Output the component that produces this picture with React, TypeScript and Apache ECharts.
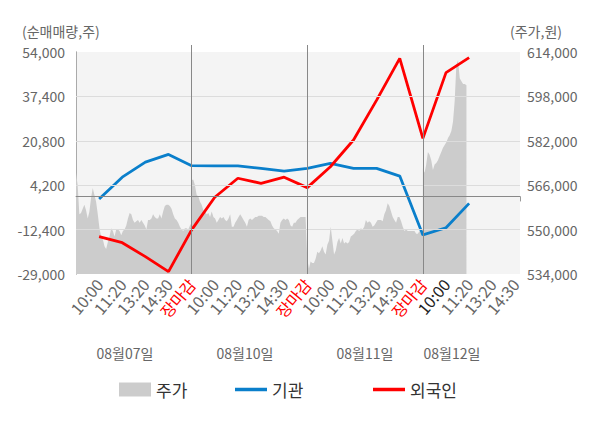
import React, { useEffect, useRef } from "react";
import * as echarts from "echarts";

const FONT = '"Noto Sans CJK KR", "Noto Sans", sans-serif';

// x-axis tick labels (one per slot, slots 1..19)
const timeLabels = [
  "10:00", "11:20", "13:20", "14:30", "장마감",
  "10:00", "11:20", "13:20", "14:30", "장마감",
  "10:00", "11:20", "13:20", "14:30", "장마감",
  "10:00", "11:20", "13:20", "14:30",
];
const closeLabel = "장마감";
const currentDayFirstSlot = 16;
const dayLabels = ["08월07일", "08월10일", "08월11일", "08월12일"];
const slotsPerDay = 5;
const axisSlots = 19.2;

// net buying (left axis), one value per slot 1..17
const institution = [
  -1000, 7200, 12800, 15700, 11500,
  11400, 11400, 10500, 9500, 10500,
  12400, 10500, 10500, 7600, -14400,
  -11700, -2600,
];
const foreign = [
  -15000, -17300, -22500, -28100, -12500,
  -300, 6800, 4900, 7200, 3300,
  11100, 21100, 36000, 51600, 21700,
  46300, 51900,
];

// price (right axis), intraday samples per day
const priceDay1 = [
  570500, 566000, 555500, 556000, 557500, 559000, 557000, 554000, 556500, 561500,
  565000, 562500, 560000, 555500, 550500, 547500, 546500, 544000, 543000, 545500,
  547500, 550500, 549500, 547500, 550000, 550000, 549500, 548000, 549500, 550000,
  551500, 554000, 556000, 555500, 553500, 552500, 553000, 553500, 552500, 553500,
  552500, 551500, 550000, 553500, 553500, 554000, 555500, 554500, 554000, 554000,
  555500, 554000, 556500, 558500, 559000, 559000, 558500, 557500, 555500, 554000,
  553500, 552500, 551000, 550000, 549500, 550500, 550500, 550000, 551500, 552500,
];
const priceDay2 = [
  568000, 568000, 566000, 562500, 562000, 560000, 559000, 557000, 556500, 555500,
  556000, 554500, 556500, 554500, 554000, 552500, 553500, 554500, 554000, 554500,
  553500, 553000, 554000, 555500, 551000, 551000, 552500, 553500, 554500, 555500,
  554500, 553500, 552500, 551000, 553500, 554000, 553500, 554000, 554500, 554500,
  555000, 555000, 555000, 554500, 554500, 554000, 553500, 553000, 551500, 550500,
  550000, 549500, 548500, 552500, 553500, 554000, 553500, 554000, 553500, 551500,
  551000, 552500, 552500, 553500, 554000, 554500, 554500, 554500, 554500,
];
const priceDay3 = [
  539500, 536000, 538500, 538000, 538000, 539500, 542000, 541500, 542500, 544000,
  542000, 541000, 544500, 546000, 551000, 546000, 541000, 542500, 545500, 547000,
  545000, 547000, 545000, 545500, 545000, 545500, 547500, 548000, 548500, 549500,
  550000, 549500, 550500, 550000, 551000, 553500, 552500, 553000, 552500, 551000,
  551500, 552500, 553500, 553500, 553500, 553000, 555500, 557000, 559500, 558500,
  556500, 554500, 553500, 552500, 554500, 554500, 553000, 551000, 549500, 550000,
  549500, 549500, 549500, 549500, 549500, 548500, 548500, 549500, 548500, 548500,
];
const priceDay4 = [
  572000, 570500, 573500, 578000, 577000, 575000, 571500, 573500, 574000, 575000,
  576500, 578000, 579500, 580500, 581500, 583000, 584000, 585500, 589000, 596500,
  609500, 611000, 604500, 603500, 602500, 602500, 602000,
];
const priceDays = [priceDay1, priceDay2, priceDay3, priceDay4];
const samplesPerDay = 69;

const leftMin = -29000;
const leftMax = 54000;
const leftStep = 16600;
const rightMin = 534000;
const rightMax = 614000;
const rightStep = 16000;

const BLUE = "#0a7fcb";
const RED = "#ff0000";
const AREA = "#cccccc";

export default function App() {
  const ref = useRef<HTMLDivElement>(null);

  useEffect(() => {
    if (!ref.current) return;
    const chart = echarts.init(ref.current, undefined, { renderer: "svg" });

    const step = slotsPerDay / samplesPerDay;
    const priceData: number[][] = [];
    priceDays.forEach((day, d) => {
      day.forEach((p, i) => priceData.push([d * slotsPerDay + i * step, p]));
    });
    const instData = institution.map((v, i) => [i + 1, v]);
    const forData = foreign.map((v, i) => [i + 1, v]);
    const labelSlots = timeLabels.map((_, i) => i + 1);
    const dayBounds: number[] = [];
    for (let s = slotsPerDay; s < axisSlots; s += slotsPerDay) dayBounds.push(s);
    const rightInner: number[] = [];
    for (let v = rightMin + rightStep; v < rightMax; v += rightStep) rightInner.push(v);

    const axisText = { fontFamily: FONT, fontSize: 14, color: "#666" };
    const xFont = 16;

    chart.setOption({
      animation: false,
      textStyle: { fontFamily: FONT },
      grid: {
        left: 76, right: 80, top: 52, bottom: 154,
        show: true, backgroundColor: "#f4f4f4", borderWidth: 0,
      },
      xAxis: [
        {
          type: "value", min: 0, max: axisSlots, position: "bottom",
          axisLine: { show: true, lineStyle: { color: "#999" } },
          axisTick: { show: true, customValues: [0, ...dayBounds, axisSlots], length: 5, lineStyle: { color: "#999" } },
          axisLabel: {
            customValues: labelSlots,
            rotate: 50,
            margin: 7,
            fontFamily: FONT, fontSize: xFont, color: "#666",
            formatter: (v: number) => {
              const idx = Math.round(v);
              const t = timeLabels[idx - 1];
              if (!t) return "";
              if (t === closeLabel) return `{c|${t}}`;
              if (idx === currentDayFirstSlot) return `{d|${t}}`;
              return t;
            },
            rich: {
              c: { color: RED, fontFamily: FONT, fontSize: xFont },
              d: { color: "#222", fontFamily: FONT, fontSize: xFont },
            },
          },
          splitLine: { show: false },
        },
        {
          type: "value", min: 0, max: axisSlots, position: "top",
          axisLine: { show: false },
          axisTick: { show: true, customValues: dayBounds, length: 7, lineStyle: { color: "#888" } },
          axisLabel: { show: false },
          splitLine: { show: false },
        },
      ],
      yAxis: [
        {
          type: "value", min: leftMin, max: leftMax, interval: leftStep, position: "left",
          axisLine: { show: true, lineStyle: { color: "#aaa" } },
          axisTick: { show: false },
          axisLabel: { ...axisText, margin: 11, formatter: (v: number) => v.toLocaleString("en-US") },
          splitLine: { show: false },
        },
        {
          type: "value", min: rightMin, max: rightMax, interval: rightStep, position: "right",
          axisLine: { show: true, lineStyle: { color: "#aaa" } },
          axisTick: { show: false },
          axisLabel: { ...axisText, margin: 7, formatter: (v: number) => v.toLocaleString("en-US") },
          splitLine: { show: false },
        },
      ],
      legend: [
        {
          data: [{ name: "주가", icon: "rect" }],
          left: 114, top: 376, itemWidth: 32, itemHeight: 14, itemGap: 8,
          textStyle: { fontFamily: FONT, fontSize: 17, color: "#333" },
          selectedMode: false,
        },
        {
          data: [{ name: "기관", icon: "rect" }],
          left: 230, top: 376, itemWidth: 32, itemHeight: 3.5, itemGap: 8,
          textStyle: { fontFamily: FONT, fontSize: 17, color: "#333" },
          selectedMode: false,
        },
        {
          data: [{ name: "외국인", icon: "rect" }],
          left: 368, top: 376, itemWidth: 32, itemHeight: 3.5, itemGap: 8,
          textStyle: { fontFamily: FONT, fontSize: 17, color: "#333" },
          selectedMode: false,
        },
      ],
      graphic: [
        { type: "text", left: 22, top: 24, style: { text: "(순매매량,주)", fill: "#666", font: `14px ${FONT}` } },
        { type: "text", left: 510, top: 24, style: { text: "(주가,원)", fill: "#666", font: `14px ${FONT}` } },
        ...dayLabels.map((t, i) => ({
          type: "text",
          x: [125, 245, 365, 452][i],
          y: 353,
          style: { text: t, fill: "#666", font: `14px ${FONT}`, textAlign: "center", textVerticalAlign: "middle" },
        })),
      ],
      series: [
        {
          name: "주가", type: "line", xAxisIndex: 0, yAxisIndex: 1, data: priceData,
          showSymbol: false, symbol: "none", z: 1,
          itemStyle: { color: AREA },
          lineStyle: { width: 0, color: AREA },
          areaStyle: { color: AREA, opacity: 1, origin: "start" },
          markLine: {
            silent: true, symbol: ["none", "none"], label: { show: false }, animation: false,
            data: [
              ...rightInner.map((v) => ({ yAxis: v, lineStyle: { color: "#dcdcdc", width: 1, type: "solid" } })),
              ...dayBounds.map((v) => ({ xAxis: v, lineStyle: { color: "#888", width: 1, type: "solid" } })),
            ],
          },
        },
        {
          name: "기관", type: "line", xAxisIndex: 0, yAxisIndex: 0, data: instData,
          showSymbol: false, symbol: "none", z: 3,
          itemStyle: { color: BLUE }, lineStyle: { color: BLUE, width: 2.8 },
          markLine: {
            silent: true, symbol: ["none", "none"], label: { show: false }, animation: false,
            data: [{ yAxis: 0, lineStyle: { color: "#888", width: 1, type: "solid" } }],
          },
        },
        {
          name: "외국인", type: "line", xAxisIndex: 0, yAxisIndex: 0, data: forData,
          showSymbol: false, symbol: "none", z: 4,
          itemStyle: { color: RED }, lineStyle: { color: RED, width: 2.8 },
        },
      ],
    });

    return () => chart.dispose();
  }, []);

  return <div ref={ref} style={{ position: "absolute", left: 0, top: 0, width: 600, height: 428 }} />;
}
